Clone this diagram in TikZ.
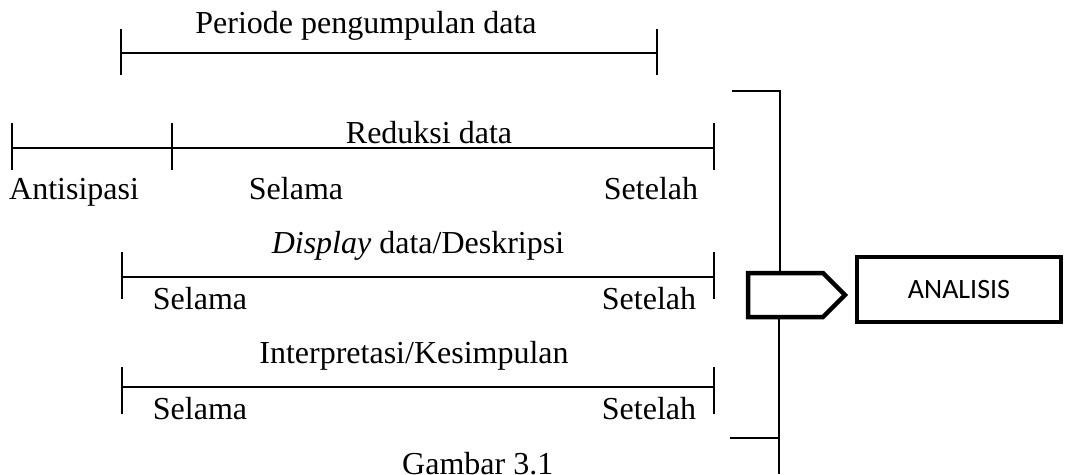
\documentclass[tikz,border=0pt]{standalone}
\usepackage{fontspec}
\setmainfont{Liberation Serif}
\newfontfamily\carlitofont{Carlito}
\begin{document}
\begin{tikzpicture}[x=1pt,y=-1pt,
  rule/.style={line width=1.6pt, line cap=butt},
  thickbox/.style={line width=4.5pt, line join=miter},
  lbl/.style={font=\fontsize{32}{36}\selectfont, inner sep=0pt, anchor=base},
  sanslbl/.style={font=\carlitofont\fontsize{28}{32}\selectfont, inner sep=0pt}]
\useasboundingbox (0,0) rectangle (1068,474);
\clip (0,0) rectangle (1068,474);
% Periode pengumpulan data
\coordinate (p1) at (121,53); \coordinate (p2) at (657,53);
\draw[rule] (p1) -- (p2);
\draw[rule] (121,29) -- (121,75);
\draw[rule] (657,29) -- (657,75);
\node[lbl] (periode) at (366,33) {Periode pengumpulan data};
% Reduksi data
\coordinate (r1) at (12,148); \coordinate (r2) at (172,148); \coordinate (r3) at (714,148);
\draw[rule] (r1) -- (r3);
\foreach \x in {12,172,714} \draw[rule] (\x,123) -- (\x,170);
\node[lbl] (reduksi) at (429,143) {Reduksi data};
\node[lbl, anchor=base west] (antisipasi) at (9,199) {Antisipasi};
\node[lbl] (selama1) at (296,199) {Selama};
\node[lbl] (setelah1) at (651,199) {Setelah};
% Display data
\coordinate (d1) at (122,277); \coordinate (d2) at (714,277);
\draw[rule] (d1) -- (d2);
\draw[rule] (122,252) -- (122,299);
\draw[rule] (714,252) -- (714,299);
\node[lbl] (display) at (418,253) {\textit{Display} data/Deskripsi};
\node[lbl] (selama2) at (200,309) {Selama};
\node[lbl] (setelah2) at (649,309) {Setelah};
% Interpretasi
\coordinate (i1) at (122,387); \coordinate (i2) at (714,387);
\draw[rule] (i1) -- (i2);
\draw[rule] (122,367) -- (122,414);
\draw[rule] (714,367) -- (714,414);
\node[lbl] (interp) at (414,363) {Interpretasi/Kesimpulan};
\node[lbl] (selama3) at (200,419) {Selama};
\node[lbl] (setelah3) at (649,419) {Setelah};
% Bracket and arrow
\coordinate (bt) at (732,91); \coordinate (btc) at (780,91);
\coordinate (bb) at (730,438); \coordinate (bbc) at (779,438);
\coordinate (bend) at (779,474);
\draw[rule] (bt) -- (btc) -- (780,273);
\draw[rule] (779,317) -- (bend);
\draw[rule] (bb) -- (bbc);
\draw[thickbox, fill=white] (748,273) -- (823,273) -- (845,295) -- (823,317) -- (748,317) -- cycle;
\node[draw, thickbox, minimum width=204pt, minimum height=65pt, sanslbl] (analisis) at (959,289.5) {ANALISIS};
\node[lbl, anchor=base west] (gambar) at (402,474) {Gambar 3.1};
\end{tikzpicture}
\end{document}
